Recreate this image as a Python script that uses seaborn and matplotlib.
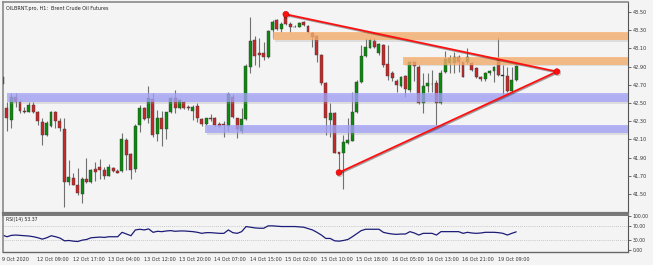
import numpy as np
import pandas as pd
import matplotlib
matplotlib.use('Agg')
import matplotlib.pyplot as plt
import seaborn as sns
from matplotlib.patches import Rectangle
import matplotlib.patheffects as pe
from matplotlib.transforms import offset_copy

# ---------------- data ----------------
opens = [42.71, 42.45, 42.31, 42.57, 42.51, 42.41, 42.40, 42.48, 42.40, 42.29,
         42.15, 42.25, 42.40, 42.30, 42.21, 41.63, 41.68, 41.60, 41.50, 41.67,
         41.63, 41.77, 41.80, 41.76, 41.70, 41.79, 41.75, 41.75, 42.09, 41.94,
         41.77, 42.26, 42.44, 42.33, 42.54, 42.16, 42.33, 42.21, 42.40, 42.56,
         42.45, 42.51, 42.46, 42.41, 42.47, 42.32, 42.27, 42.33, 42.33, 42.27,
         42.27, 42.25, 42.57, 42.33, 42.19, 42.32, 42.90, 43.19, 43.05, 43.05,
         43.01, 43.30, 43.41, 43.31, 43.44, 43.37, 43.34, 43.34, 43.39, 43.35,
         43.27, 43.24, 43.03, 42.72, 42.31, 42.39, 41.96, 41.95, 42.06, 42.08,
         42.40, 42.73, 43.02, 43.11, 43.18, 43.05, 43.14, 42.93, 42.83, 42.74,
         42.69, 42.80, 42.64, 42.95, 42.90, 42.50, 42.69, 42.705, 42.72, 42.50,
         42.84, 42.94, 42.94, 43.01, 42.95, 42.95, 42.94, 42.88, 42.79, 42.76,
         42.83, 42.85, 42.97, 42.80, 42.80, 42.63, 42.75]
highs = [42.80, 42.51, 42.61, 42.61, 42.53, 42.46, 42.51, 42.51, 42.41, 42.33,
         42.30, 42.41, 42.41, 42.34, 42.33, 41.87, 41.73, 41.79, 41.69, 41.90,
         41.78, 41.85, 41.88, 41.80, 41.83, 41.80, 41.78, 42.17, 42.12, 41.95,
         42.27, 42.48, 42.46, 42.69, 42.61, 42.42, 42.41, 42.40, 42.57, 42.64,
         42.54, 42.52, 42.48, 42.48, 42.50, 42.33, 42.34, 42.38, 42.35, 42.29,
         42.30, 42.62, 42.60, 42.34, 42.44, 42.93, 43.44, 43.24, 43.21, 43.17,
         43.30, 43.41, 43.42, 43.39, 43.48, 43.39, 43.36, 43.39, 43.40, 43.36,
         43.28, 43.25, 43.04, 42.73, 42.50, 42.40, 41.96, 42.15, 42.33, 42.62,
         42.75, 43.14, 43.21, 43.21, 43.21, 43.16, 43.15, 43.14, 42.85, 42.76,
         42.80, 42.81, 42.96, 42.96, 42.92, 42.83, 42.83, 42.86, 42.75, 42.86,
         43.07, 43.03, 43.06, 43.03, 42.95, 43.10, 42.95, 42.90, 42.80, 42.84,
         42.86, 42.91, 43.23, 42.92, 42.90, 42.90, 42.92]
lows = [42.70, 42.19, 42.22, 42.46, 42.39, 42.39, 42.40, 42.39, 42.26, 42.04,
        42.14, 42.24, 42.22, 42.19, 41.36, 41.60, 41.60, 41.49, 41.40, 41.62,
        41.62, 41.64, 41.67, 41.67, 41.70, 41.74, 41.73, 41.74, 41.76, 41.67,
        41.74, 42.18, 42.31, 42.28, 42.13, 42.08, 42.03, 42.10, 42.39, 42.39,
        42.43, 42.43, 42.42, 42.31, 42.29, 42.25, 42.26, 42.30, 42.25, 42.24,
        42.13, 42.19, 42.33, 42.12, 42.17, 42.31, 42.83, 42.92, 42.90, 42.97,
        43.00, 43.21, 43.30, 43.28, 43.36, 43.28, 43.33, 43.34, 43.35, 43.27,
        43.12, 42.95, 42.70, 42.15, 42.13, 41.95, 41.73, 41.55, 42.05, 42.08,
        42.39, 42.72, 43.01, 43.10, 43.10, 43.03, 42.90, 42.75, 42.74, 42.62,
        42.68, 42.57, 42.62, 42.74, 42.49, 42.39, 42.62, 42.62, 42.26, 42.49,
        42.83, 42.83, 42.83, 42.84, 42.79, 42.93, 42.85, 42.77, 42.74, 42.74,
        42.81, 42.73, 42.80, 42.59, 42.62, 42.61, 42.74]
closes = [42.79, 42.33, 42.57, 42.51, 42.41, 42.40, 42.48, 42.40, 42.30, 42.15,
          42.28, 42.40, 42.30, 42.22, 41.63, 41.69, 41.60, 41.51, 41.67, 41.63,
          41.76, 41.74, 41.76, 41.70, 41.80, 41.75, 41.73, 42.10, 41.93, 41.76,
          42.25, 42.45, 42.32, 42.55, 42.15, 42.33, 42.21, 42.40, 42.56, 42.44,
          42.53, 42.45, 42.44, 42.46, 42.33, 42.27, 42.33, 42.32, 42.26, 42.25,
          42.26, 42.595, 42.35, 42.21, 42.32, 42.91, 43.18, 43.02, 43.03, 43.01,
          43.29, 43.39, 43.31, 43.37, 43.37, 43.33, 43.33, 43.38, 43.36, 43.28,
          43.23, 43.03, 42.72, 42.33, 42.39, 41.95, 41.94, 42.07, 42.09, 42.40,
          42.73, 43.02, 43.12, 43.19, 43.12, 43.15, 42.92, 42.80, 42.77, 42.70,
          42.79, 42.65, 42.95, 42.91, 42.50, 42.69, 42.72, 42.705, 42.50, 42.83,
          42.98, 43.00, 43.01, 42.95, 42.79, 43.01, 42.86, 42.79, 42.76, 42.83,
          42.85, 42.90, 42.81, 42.80, 42.63, 42.75, 42.91]
rsi = [44, 39, 43, 44, 43, 42, 41, 39, 36, 32,
       36, 42, 39, 35, 27, 28, 26, 25, 29, 31,
       36, 37, 38, 37, 39, 39, 39, 52, 47, 42,
       59, 61, 59, 62, 52, 55, 54, 56, 57, 55,
       56, 56, 55, 54, 52, 49, 51, 51, 50, 49,
       49, 59, 51, 49, 54, 69, 67, 65, 64, 64,
       71, 71, 70, 69, 69, 69, 69, 68, 67, 63,
       59, 52, 44, 34, 34, 27, 26, 28, 31, 39,
       48, 57, 61, 61, 61, 61, 52, 49, 47, 46,
       47, 47, 54, 50, 44, 49, 49, 49, 44, 54,
       54, 54, 54, 54, 49, 52, 50, 49, 50, 52,
       52, 52, 51, 49, 44, 49, 53.37]
time_labels = ["9 Oct 2020", "12 Oct 09:00", "12 Oct 17:00", "13 Oct 04:00",
               "13 Oct 12:00", "13 Oct 20:00", "14 Oct 07:00", "14 Oct 15:00",
               "15 Oct 02:00", "15 Oct 10:00", "15 Oct 18:00", "16 Oct 05:00",
               "16 Oct 13:00", "16 Oct 21:00", "19 Oct 09:00"]
price_ticks = [43.50, 43.30, 43.10, 42.90, 42.70, 42.50, 42.30, 42.10, 41.90, 41.70, 41.50]
rsi_ticks = [100, 70, 30, 0]

# zones: (start bar, low, high)
resistance_zones = [(61.2, 43.19, 43.285), (90.5, 42.92, 43.01)]
support_zones = [(1.1, 42.51, 42.61), (45.8, 42.17, 42.26)]
# triangle: (bar, price)
tri_top = (64, 43.475)
tri_bottom = (76, 41.736)
tri_apex = (125.2, 42.845)

title = "OILBRNT.pro, H1:  Brent Crude Oil Futures"
rsi_title = "RSI(14) 53.37"

# ---------------- figure ----------------
sns.set_style('white')
plt.rcParams['font.family'] = ['DejaVu Sans']

W, H = 653, 265
BG = '#f4f4f4'
fig = plt.figure(figsize=(W / 100, H / 100), dpi=100)
fig.patch.set_facecolor(BG)


def fx(px):
    return px / W


def fy(py):
    return 1 - py / H


L, R = 2.5, 628
ax = fig.add_axes([fx(L), fy(213), fx(R) - fx(L), fy(2) - fy(213)])
rx = fig.add_axes([fx(L), fy(252), fx(R) - fx(L), fy(215) - fy(252)])
for a in (ax, rx):
    a.set_facecolor(BG)

x0, step = 2.3, 4.43
xlim = ((L - x0) / step, (R - x0) / step)

df = pd.DataFrame({'open': opens, 'high': highs, 'low': lows, 'close': closes, 'rsi': rsi})
df['idx'] = np.arange(len(df))

GREEN = '#0b8a0b'
RED = '#c42a2a'
# wicks
ax.vlines(df['idx'], df['low'], df['high'], color='#707070', lw=0.8, zorder=2)
# bodies
bot = np.minimum(df['open'], df['close'])
hgt = np.abs(df['close'] - df['open'])
hgt = np.maximum(hgt, 0.004)
cols = [GREEN if c > o else (RED if c < o else '#222222') for o, c in zip(opens, closes)]
ax.bar(df['idx'], hgt, bottom=bot, width=0.66, color=cols, edgecolor='#3a3a3a',
       linewidth=0.3, zorder=3)

# zones with soft shadow
sh = 1.6 / 91
for start, lo, hi in resistance_zones:
    ax.add_patch(Rectangle((start + 0.3, lo - sh), xlim[1] - start, hi - lo,
                           facecolor='#9a9a9a', alpha=0.25, lw=0, zorder=4))
    ax.add_patch(Rectangle((start, lo), xlim[1] - start + 1, hi - lo,
                           facecolor='#f9ad68', alpha=0.75, lw=0, zorder=5))
for start, lo, hi in support_zones:
    ax.add_patch(Rectangle((start + 0.3, lo - sh), xlim[1] - start, hi - lo,
                           facecolor='#9a9a9a', alpha=0.25, lw=0, zorder=4))
    ax.add_patch(Rectangle((start, lo), xlim[1] - start + 1, hi - lo,
                           facecolor='#a0a0f8', alpha=0.75, lw=0, zorder=5))

# triangle lines
shadow = [pe.SimpleLineShadow(offset=(0.6, -0.8), shadow_color='#000000', alpha=0.35),
          pe.Normal()]
for p in (tri_top, tri_bottom):
    ax.plot([p[0], tri_apex[0]], [p[1], tri_apex[1]], color='#ff1010', lw=1.3,
            solid_capstyle='round', path_effects=shadow, zorder=6)
for p in (tri_top, tri_bottom, tri_apex):
    ax.plot([p[0]], [p[1]], 'o', color='#ff1010', ms=4.2, mec='#cc0000', mew=0.4,
            path_effects=shadow, zorder=7)

ax.set_xlim(*xlim)
ax.set_ylim(43.632 - 213 / 91, 43.632 - 2 / 91)
ax.yaxis.tick_right()
ax.set_yticks(price_ticks)
ax.set_yticklabels([f"{v:.2f}" for v in price_ticks])
ax.tick_params(axis='y', direction='out', length=2.5, width=0.5, pad=0.8,
               labelsize=3.6, colors='#333333', right=True, left=False)
ax.set_xticks([])
ax.text(4 / (R - L), 1 - 4.0 / 211, title, transform=ax.transAxes, fontsize=3.5,
        color='#222222', ha='left', va='top')

# RSI panel
sns.lineplot(data=df, x='idx', y='rsi', ax=rx, color='#1c1c78', lw=0.9)
rx.axhline(70, color='#b8b8b8', lw=0.6, ls=(0, (1, 1.5)), zorder=0)
rx.axhline(30, color='#b8b8b8', lw=0.6, ls=(0, (1, 1.5)), zorder=0)
rx.set_xlim(*xlim)
rx.set_ylim((250 - 252) / 0.34, (250 - 215) / 0.34)
rx.yaxis.tick_right()
rx.set_yticks(rsi_ticks)
rx.set_yticklabels([f"{v:.2f}" for v in rsi_ticks])
rx.tick_params(axis='y', direction='out', length=2.5, width=0.5, pad=0.8,
               labelsize=3.3, colors='#333333', right=True, left=False)
rx.set_xlabel('')
rx.set_ylabel('')
tick_idx = [8 * i for i in range(len(time_labels))]
rx.set_xticks(tick_idx)
rx.set_xticklabels(time_labels)
rx.tick_params(axis='x', direction='out', length=3, width=0.5, pad=0.8,
               labelsize=3.5, colors='#333333')
for lab in rx.get_xticklabels():
    lab.set_horizontalalignment('left')
    lab.set_transform(offset_copy(lab.get_transform(), fig=fig, x=-0.5, y=0, units='points'))
rx.text(4 / (R - L), 1 - 2 / 37, rsi_title, transform=rx.transAxes, fontsize=3.3,
        color='#222222', ha='left', va='top')

for a in (ax, rx):
    for s in ('left', 'top'):
        a.spines[s].set_color('#8a8a8a')
        a.spines[s].set_linewidth(1.2)
    a.spines['right'].set_color('#555555')
    a.spines['right'].set_linewidth(0.8)
    a.spines['bottom'].set_color('#666666')
    a.spines['bottom'].set_linewidth(1.0)
ax.spines['bottom'].set_linewidth(1.6)
ax.spines['bottom'].set_color('#777777')
rx.spines['top'].set_linewidth(1.4)
rx.spines['top'].set_color('#777777')

fig.savefig('out.png', dpi=100, facecolor=BG)
